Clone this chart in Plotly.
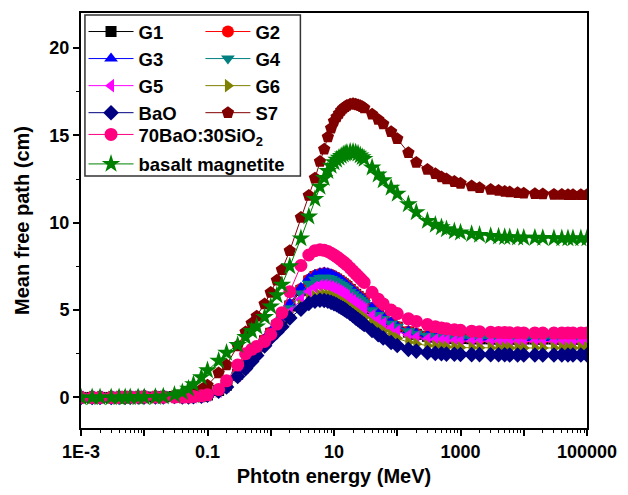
import plotly.graph_objects as go

energy = [0.001, 0.0015, 0.002, 0.003, 0.004, 0.005, 0.006, 0.008, 0.01, 0.015, 0.02, 0.03, 0.04, 0.05,
          0.06, 0.08, 0.1, 0.15, 0.2, 0.3, 0.4, 0.5, 0.6, 0.8, 1, 1.25, 1.5, 2, 3, 4, 5, 6, 7, 8, 9, 10,
          11, 12, 13, 14, 15, 16, 18, 20, 22, 24, 26, 28, 30, 40, 50, 60, 80, 100, 150, 200, 300, 400,
          500, 600, 800, 1000, 1500, 2000, 3000, 4000, 5000, 6000, 8000, 10000, 15000, 20000, 30000,
          40000, 50000, 60000, 80000, 100000]

low_g = [0.0, 0.0, 0.0, 0.0, 0.01, 0.01, 0.01, 0.02, 0.03, 0.02, 0.03, 0.05, 0.02, 0.03, 0.04, 0.07]

g1 = low_g + [0.14, 0.4, 0.7, 1.33, 1.84, 2.28, 2.68, 3.24, 3.67, 4.12, 4.52, 5.23, 6.12, 6.66,
              6.91, 7.01, 7.04, 7.01, 6.94, 6.86, 6.77, 6.68, 6.59, 6.5, 6.42, 6.34, 6.18, 6.03, 5.9,
              5.78, 5.67, 5.57, 5.48, 5.07, 4.77, 4.55, 4.23, 4.02, 3.74, 3.61, 3.5, 3.45, 3.42, 3.4,
              3.38, 3.37, 3.36, 3.35, 3.35, 3.34, 3.34, 3.34, 3.34, 3.34, 3.34, 3.34, 3.34, 3.34, 3.34,
              3.34, 3.34, 3.34]
g2 = low_g + [0.15, 0.41, 0.72, 1.36, 1.88, 2.33, 2.74, 3.3, 3.72, 4.17, 4.57, 5.3, 6.2, 6.74,
              6.97, 7.07, 7.1, 7.07, 7.0, 6.92, 6.83, 6.74, 6.65, 6.56, 6.47, 6.39, 6.23, 6.08, 5.95,
              5.83, 5.72, 5.62, 5.53, 5.11, 4.81, 4.59, 4.27, 4.05, 3.77, 3.64, 3.53, 3.48, 3.45, 3.43,
              3.41, 3.4, 3.39, 3.38, 3.38, 3.37, 3.37, 3.37, 3.36, 3.36, 3.36, 3.36, 3.36, 3.36, 3.36,
              3.36, 3.36, 3.36]
g3 = low_g + [0.15, 0.42, 0.74, 1.39, 1.92, 2.38, 2.8, 3.36, 3.77, 4.22, 4.63, 5.37, 6.27, 6.81,
              7.02, 7.12, 7.15, 7.12, 7.05, 6.97, 6.88, 6.79, 6.7, 6.61, 6.52, 6.44, 6.28, 6.13, 5.99,
              5.87, 5.76, 5.66, 5.57, 5.15, 4.85, 4.62, 4.3, 4.08, 3.8, 3.67, 3.56, 3.5, 3.47, 3.45,
              3.43, 3.42, 3.41, 3.4, 3.4, 3.39, 3.39, 3.39, 3.38, 3.38, 3.38, 3.38, 3.38, 3.38, 3.38,
              3.38, 3.38, 3.38]
g4 = low_g + [0.14, 0.39, 0.68, 1.3, 1.8, 2.23, 2.62, 3.18, 3.62, 4.05, 4.45, 5.1, 5.95, 6.5,
              6.73, 6.83, 6.86, 6.83, 6.77, 6.69, 6.61, 6.52, 6.44, 6.36, 6.27, 6.2, 6.05, 5.91, 5.78,
              5.67, 5.57, 5.47, 5.39, 4.99, 4.71, 4.49, 4.22, 4.05, 3.78, 3.65, 3.53, 3.47, 3.44, 3.42,
              3.4, 3.39, 3.38, 3.37, 3.37, 3.36, 3.36, 3.36, 3.36, 3.36, 3.36, 3.36, 3.36, 3.36, 3.36,
              3.36, 3.36, 3.36]
g5 = low_g + [0.13, 0.37, 0.65, 1.26, 1.74, 2.16, 2.54, 3.1, 3.55, 3.95, 4.3, 4.85, 5.6, 6.05,
              6.3, 6.39, 6.41, 6.38, 6.33, 6.26, 6.18, 6.1, 6.03, 5.95, 5.87, 5.8, 5.66, 5.53, 5.41,
              5.31, 5.21, 5.12, 5.04, 4.68, 4.43, 4.23, 3.96, 3.78, 3.55, 3.44, 3.34, 3.3, 3.27, 3.26,
              3.24, 3.23, 3.22, 3.21, 3.21, 3.2, 3.2, 3.2, 3.2, 3.2, 3.2, 3.2, 3.2, 3.2, 3.2,
              3.2, 3.2, 3.2]
g6 = low_g + [0.12, 0.36, 0.63, 1.23, 1.7, 2.1, 2.47, 3.02, 3.48, 3.85, 4.15, 4.68, 5.25, 5.6,
              5.76, 5.84, 5.86, 5.83, 5.78, 5.71, 5.64, 5.56, 5.49, 5.42, 5.35, 5.28, 5.15, 5.03, 4.92,
              4.82, 4.73, 4.64, 4.57, 4.23, 3.99, 3.8, 3.55, 3.38, 3.16, 3.06, 2.96, 2.92, 2.89, 2.88,
              2.86, 2.85, 2.84, 2.84, 2.83, 2.83, 2.83, 2.83, 2.83, 2.83, 2.83, 2.83, 2.83, 2.83, 2.83,
              2.83, 2.83, 2.83]
bao = low_g + [0.12, 0.35, 0.6, 1.2, 1.65, 2.05, 2.4, 2.95, 3.4, 3.75, 4.05, 4.55, 5.05, 5.38,
               5.5, 5.56, 5.55, 5.5, 5.44, 5.37, 5.3, 5.22, 5.15, 5.08, 5.01, 4.94, 4.8, 4.67, 4.55,
               4.45, 4.35, 4.26, 4.18, 3.83, 3.59, 3.4, 3.14, 2.97, 2.75, 2.65, 2.56, 2.52, 2.5, 2.48,
               2.47, 2.46, 2.45, 2.45, 2.44, 2.44, 2.44, 2.43, 2.43, 2.43, 2.43, 2.43, 2.43, 2.43, 2.43,
               2.43, 2.43, 2.43]
s7 = [0.0, 0.0, 0.0, 0.0, 0.0, 0.0, 0.01, 0.01, 0.02, 0.03, 0.04, 0.05, 0.1, 0.16, 0.25, 0.45,
      0.7, 1.4, 1.85, 2.95, 3.75, 4.25, 4.65, 5.35, 6.0, 6.7, 7.3, 8.4, 10.3, 11.55, 12.55, 13.5,
      14.2, 14.9, 15.4, 15.8, 16.05, 16.25, 16.42, 16.55, 16.64, 16.7, 16.78, 16.8, 16.78, 16.74,
      16.69, 16.63, 16.56, 16.2, 15.9, 15.65, 15.2, 14.8, 14.0, 13.45, 13.05, 12.8, 12.62, 12.5,
      12.35, 12.25, 12.1, 12.0, 11.9, 11.84, 11.79, 11.75, 11.71, 11.69, 11.66, 11.64, 11.62,
      11.61, 11.6, 11.6, 11.6, 11.6]
bao_sio2 = [0.0, 0.0, 0.0, 0.0, 0.0, 0.01, 0.01, 0.01, 0.02, 0.03, 0.01, 0.02, 0.02, 0.03, 0.05,
            0.09, 0.15, 0.45, 0.95, 1.85, 2.5, 2.75, 2.92, 3.2, 3.6, 4.2, 4.85, 6.05, 7.55, 8.15,
            8.4, 8.45, 8.42, 8.35, 8.25, 8.15, 8.05, 7.95, 7.85, 7.76, 7.67, 7.58, 7.4, 7.23, 7.08,
            6.94, 6.81, 6.69, 6.58, 6.02, 5.62, 5.35, 5.0, 4.8, 4.5, 4.35, 4.17, 4.05, 3.98, 3.93,
            3.87, 3.84, 3.79, 3.76, 3.73, 3.72, 3.71, 3.7, 3.7, 3.69, 3.69, 3.68, 3.68, 3.68, 3.68,
            3.68, 3.68, 3.68]
basalt = [0.0, 0.0, 0.0, 0.0, 0.0, 0.0, 0.01, 0.01, 0.01, 0.02, 0.05, 0.15, 0.3, 0.5, 0.75, 1.15,
          1.55, 2.1, 2.55, 3.0, 3.45, 3.8, 4.05, 4.6, 5.2, 5.85, 6.45, 7.5, 9.1, 10.35, 11.35, 12.05,
          12.55, 12.95, 13.25, 13.45, 13.6, 13.72, 13.82, 13.9, 13.95, 14.0, 14.05, 14.05, 14.02,
          13.95, 13.85, 13.75, 13.65, 13.15, 12.75, 12.42, 12.0, 11.65, 11.05, 10.6, 10.1, 9.88,
          9.74, 9.62, 9.5, 9.43, 9.35, 9.3, 9.24, 9.2, 9.18, 9.17, 9.15, 9.14, 9.13, 9.12, 9.11,
          9.1, 9.1, 9.1, 9.1, 9.1]

series_names = ["G1", "G2", "G3", "G4", "G5", "G6", "BaO", "S7", "70BaO:30SiO<sub>2</sub>", "basalt magnetite"]
series_values = [g1, g2, g3, g4, g5, g6, bao, s7, bao_sio2, basalt]
colors = ["#000000", "#FF0000", "#0000FF", "#008080", "#FF00FF", "#808000", "#000080", "#800000", "#FF0080", "#008000"]
symbols = ["square", "circle", "triangle-up", "triangle-down", "triangle-left", "triangle-right",
           "diamond", "pentagon", "circle", "star"]
sizes = [11, 12, 12, 12, 12, 12, 12, 13, 13, 14]
legend_ids = ["legend", "legend2", "legend", "legend2", "legend", "legend2", "legend", "legend2", "legend3", "legend4"]

x_tickvals = [1e-3, 1e-2, 1e-1, 1, 10, 100, 1000, 1e4, 1e5]
x_ticktext = ["1E-3", " ", "0.1", " ", "10", " ", "1000", " ", "100000"]
y_tickvals = [0, 5, 10, 15, 20]

FONT = "Liberation Sans, Arial, sans-serif"

fig = go.Figure()
for name, vals, c, sym, sz, lg in zip(series_names, series_values, colors, symbols, sizes, legend_ids):
    fig.add_trace(go.Scatter(
        x=energy, y=vals, name=name, mode="lines+markers", legend=lg,
        line=dict(color=c, width=1),
        marker=dict(symbol=sym, size=sz, color=c, line=dict(width=0)),
    ))

axis_common = dict(showline=True, linecolor="black", linewidth=2, showgrid=False, zeroline=False,
                   ticks="outside", tickcolor="black", tickwidth=2, ticklen=6,
                   tickfont=dict(family=FONT, size=18, color="black", weight="bold"))

fig.update_layout(
    width=628, height=495,
    margin=dict(l=81, r=35, t=11, b=64),
    paper_bgcolor="white", plot_bgcolor="white",
    font=dict(family=FONT, color="black"),
    xaxis=dict(type="log", range=[-3, 5], tickmode="array", tickvals=x_tickvals, ticktext=x_ticktext,
               mirror=True,
               minor=dict(ticks="outside", ticklen=3, tickwidth=1, tickcolor="black", dtick="D1", showgrid=False),
               title=dict(text="Phtotn energy (MeV)", font=dict(family=FONT, size=20, weight="bold"), standoff=8),
               **axis_common),
    yaxis=dict(range=[-1.75, 22], tickmode="array", tickvals=y_tickvals, mirror=True,
               minor=dict(ticks="outside", ticklen=3, tickwidth=1, tickcolor="black", dtick=2.5, tick0=0, showgrid=False),
               title=dict(text="Mean free path (cm)", font=dict(family=FONT, size=20, weight="bold"), standoff=14),
               **axis_common),
    showlegend=True,
)

leg_common = dict(bgcolor="rgba(0,0,0,0)", borderwidth=0, itemwidth=45, orientation="v",
                  font=dict(family=FONT, size=18.5, color="black", weight="bold"),
                  xanchor="left", yanchor="top", tracegroupgap=0, itemclick=False)
fig.update_layout(
    legend=dict(x=0.005, y=1.0, **leg_common),
    legend2=dict(x=0.236, y=1.0, **leg_common),
    legend3=dict(x=0.005, y=0.752, **leg_common),
    legend4=dict(x=0.005, y=0.681, **leg_common),
)

fig.add_shape(type="rect", xref="paper", yref="paper", x0=0.0078, x1=0.4336, y0=0.607, y1=0.995,
              line=dict(color="#333333", width=1.5), fillcolor="rgba(0,0,0,0)")

fig.write_html("out.html")
